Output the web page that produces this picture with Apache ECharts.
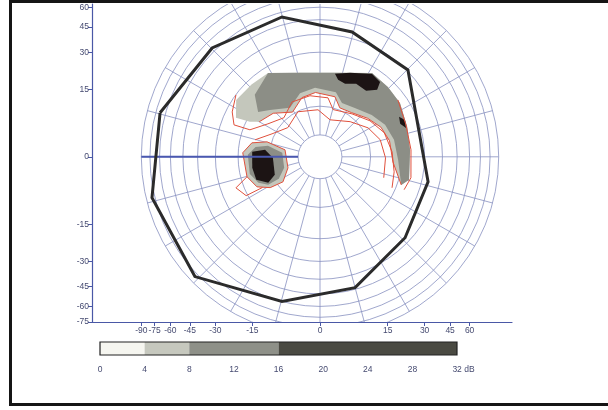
<!DOCTYPE html>
<html><head><meta charset="utf-8">
<script src="https://cdn.jsdelivr.net/npm/echarts@6/dist/echarts.min.js"></script>
<style>
html,body{margin:0;padding:0;background:#fff;overflow:hidden;width:608px;height:410px;}
#chart{position:absolute;left:0;top:0;width:608px;height:410px;}
#frame{position:absolute;left:9px;top:0px;width:596px;height:400px;border:3px solid #151515;border-right:none;pointer-events:none;}
</style></head><body>
<div id="chart"></div><div id="frame"></div>
<script>
// ---- data (visual-field degrees: [meridian angle, eccentricity]) ----
const xTicks = [-90, -75, -60, -45, -30, -15, 0, 15, 30, 45, 60];
const yTicks = [60, 45, 30, 15, 0, -15, -30, -45, -60, -75];
const circleEcc = [10, 20, 30, 40, 50, 60, 70, 80, 90];
const spokeAngles = [0, 15, 30, 45, 60, 75, 90, 105, 120, 135, 150, 165, 180, 195, 210, 225, 240, 255, 270, 285, 300, 315, 330, 345];
const holeEcc = [3.6];
const meridianLeft = [[180, 90], [180, 3.6]];
const isopter = [[164.6, 75.5], [134.7, 63.3], [105.2, 56.2], [75.6, 44.3], [44.7, 40.8], [347.0, 33.3], [316.4, 37.0], [285.0, 48.9], [255.3, 60.2], [223.8, 83.6], [193.7, 83.2]];
const scotomaLight = [[121.8, 27.1], [103.4, 21.8], [81.2, 21.3], [58.2, 27.1], [45.8, 26.5], [34.0, 26.1], [19.0, 24.2], [4.4, 23.4], [345.5, 24.1], [340.9, 21.6],
  [356, 16.8], [13, 16.2], [26, 15.0], [39, 13.0], [54.5, 11.0], [68, 10.6], [76, 13.2], [94, 14.0], [107, 13.2], [121.5, 10.5], [137, 13.8], [150, 15.8], [153.4, 18.7], [155.1, 24.4], [145.8, 28.4], [133.4, 27.6]];
const scotomaDark = [[121.8, 27.1], [103.4, 21.8], [81.2, 21.3], [58.2, 27.1], [45.8, 26.5], [34.0, 26.1], [19.0, 24.2], [4.4, 23.4], [345.5, 24.1], [340.9, 21.6],
  [357.8, 18.6], [12.9, 17.8], [26.2, 16.6], [38.9, 14.6], [54.5, 12.6], [67.8, 12.1], [76.2, 14.6], [94.1, 15.5], [107.4, 14.7], [121.5, 11.9], [136.8, 15.3], [144.0, 18.0], [136.4, 23.3]];
const scotomaBlack1 = [[79.8, 21.0], [70.3, 23.0], [57.9, 26.8], [51.3, 25.9], [49.6, 22.5], [55.1, 19.5], [63.7, 19.9], [71.1, 18.3], [76.8, 19.0]];
const scotomaBlack2 = [[26.9, 22.7], [23.5, 24.4], [18.6, 23.6], [22.4, 21.9]];
const spotOuter = [[177.0, 18.3], [168.4, 15.6], [164.2, 11.2], [168.7, 6.4], [199.0, 6.0], [214.1, 8.5], [211.8, 12.2], [205.5, 15.7], [195.3, 17.7]];
const spotMid = [[178.4, 16.5], [171.3, 14.2], [168.1, 10.7], [174.0, 6.9], [197.0, 6.8], [208.2, 9.0], [208.3, 12.3], [202.8, 14.7], [193.7, 16.5]];
const spotCore = [[175.8, 15.1], [172.7, 11.3], [181.2, 9.1], [201.8, 9.5], [206.6, 12.0], [199.8, 15.0], [189.2, 15.3]];
const spotTail = [[195.3, 17.7], [200.3, 23.1], [207.8, 20.6], [208.1, 14.2]];
const redLine1 = [[143.6, 29.9], [152.9, 27.1], [159.6, 24.0], [158.9, 17.5], [147.6, 13.1], [132.7, 10.7], [117.0, 13.1], [99.3, 13.2], [82.3, 12.5], [74.5, 9.6], [53.3, 10.8], [35.8, 13.1], [20.6, 15.3], [4.0, 16.5], [348.5, 17.7], [336.7, 18.7]];
const redLine2 = [[165.3, 14.8], [154.4, 10.7], [137.8, 8.2], [116.1, 9.9], [92.4, 9.1], [74.9, 7.0], [49.4, 8.9], [31.1, 11.5], [15.8, 13.4], [359.1, 14.3], [341.8, 14.8]];
const redLine3 = [[36.2, 26.1], [20.4, 24.0], [4.4, 23.8], [347.0, 24.7], [338.6, 23.4]];
const redLine4 = [[340.9, 21.6], [356, 16.8], [13, 16.2], [26, 15.0], [39, 13.0], [54.5, 11.0], [68, 10.6], [76, 13.2], [94, 14.0], [107, 13.2], [121.5, 10.5], [137, 13.8], [150, 15.8]];
const legendBreaks = [0, 4, 8, 16, 32];
const legendColors = ['#f6f6f0', '#c6c8be', '#8e9088', '#4a4a42'];

// ---- projection of the perimetry chart ----
const A = 83.5, K = 12;
function proj(e) { return A * Math.log(1 + e / K); }
function unproj(r) { return K * (Math.exp(r / A) - 1); }
function toXY(p) { const a = p[0] * Math.PI / 180, r = proj(p[1]); return [r * Math.cos(a), r * Math.sin(a)]; }
const sp = v => Math.sign(v) * proj(Math.abs(v));

const axisColor = '#4a58a6', labelColor = '#454a70', gridColor = '#8890c0';
const font = 'Liberation Sans, Arial, sans-serif';

function polySeries(pts, fill, stroke, lw, z) {
  return {
    type: 'custom', xAxisIndex: 0, yAxisIndex: 0, z: z, silent: true, clip: true,
    data: pts.map(toXY),
    renderItem: function (params, api) {
      if (params.dataIndexInside !== 0) return null;
      const n = params.dataInsideLength, points = [];
      for (let i = 0; i < n; i++) points.push(api.coord([api.value(0, i), api.value(1, i)]));
      return { type: 'polygon', shape: { points: points }, style: { fill: fill, stroke: stroke || null, lineWidth: lw || 0 } };
    }
  };
}
function lineSeries(pts, color, width, z, closed) {
  const d = pts.map(toXY);
  if (closed) d.push(d[0]);
  return { type: 'line', xAxisIndex: 0, yAxisIndex: 0, data: d, symbol: 'none', silent: true, z: z,
    lineStyle: { color: color, width: width, join: 'miter' }, animation: false };
}

const series = [
  { type: 'custom', xAxisIndex: 0, yAxisIndex: 0, z: 1, silent: true, clip: true,
    data: circleEcc.map(e => [e, 0]),
    renderItem: function (params, api) {
      const c = api.coord([0, 0]);
      const r = api.coord([proj(api.value(0)), 0])[0] - c[0];
      return { type: 'circle', shape: { cx: c[0], cy: c[1], r: r }, style: { fill: 'none', stroke: gridColor, lineWidth: 0.8 } };
    } },
  { type: 'custom', xAxisIndex: 0, yAxisIndex: 0, z: 1, silent: true, clip: true,
    data: spokeAngles.map(a => [a, 0]),
    renderItem: function (params, api) {
      const a = api.value(0);
      const p1 = api.coord(toXY([a, holeEcc[0]])), p2 = api.coord(toXY([a, 90]));
      return { type: 'line', shape: { x1: p1[0], y1: p1[1], x2: p2[0], y2: p2[1] }, style: { stroke: gridColor, lineWidth: 0.8 } };
    } },
  { type: 'custom', xAxisIndex: 0, yAxisIndex: 0, z: 1, silent: true,
    data: holeEcc.map(e => [e, 0]),
    renderItem: function (params, api) {
      const c = api.coord([0, 0]);
      const r = api.coord([proj(api.value(0)), 0])[0] - c[0];
      return { type: 'circle', shape: { cx: c[0], cy: c[1], r: r }, style: { fill: '#fff', stroke: gridColor, lineWidth: 0.8 } };
    } },
  polySeries(scotomaLight, '#c4c7bc', null, 0, 2),
  polySeries(scotomaDark, '#8c8e86', null, 0, 3),
  polySeries(scotomaBlack1, '#1c1414', null, 0, 4),
  polySeries(scotomaBlack2, '#1c1414', null, 0, 4),
  polySeries(spotOuter, '#c4c7bc', '#e0503c', 1, 3),
  polySeries(spotMid, '#8c8e86', null, 0, 4),
  polySeries(spotCore, '#1c1414', null, 0, 5),
  lineSeries(redLine1, '#e0503c', 1, 6),
  lineSeries(redLine2, '#e0503c', 1, 6),
  lineSeries(redLine3, '#e0503c', 1, 6),
  lineSeries(redLine4, '#e0503c', 1, 6),
  lineSeries(spotTail, '#e0503c', 1, 6),
  lineSeries(meridianLeft, '#4a58b0', 2, 7),
  lineSeries(isopter, '#2b2b2b', 3, 8, true)
];
for (let i = 0; i < legendColors.length; i++) {
  series.push({ type: 'bar', xAxisIndex: 1, yAxisIndex: 1, stack: 'lg', barWidth: '100%', silent: true,
    data: [legendBreaks[i + 1] - legendBreaks[i]], itemStyle: { color: legendColors[i] } });
}

const chart = echarts.init(document.getElementById('chart'), null, { renderer: 'canvas' });
chart.setOption({
  animation: false,
  backgroundColor: 'transparent',
  grid: [
    { left: 92, right: 96, top: 4, height: 318 },
    { left: 100, width: 357, top: 342, height: 13, show: true, z: 10, backgroundColor: 'transparent', borderColor: '#222', borderWidth: 1.2 }
  ],
  xAxis: [
    { gridIndex: 0, type: 'value', min: -228, max: 192, position: 'bottom',
      axisLine: { onZero: false, lineStyle: { color: axisColor, width: 1.2 } },
      axisTick: { length: 4, lineStyle: { color: axisColor }, customValues: xTicks.map(sp) },
      axisLabel: { customValues: xTicks.map(sp), fontSize: 8.5, color: labelColor, margin: 4, fontFamily: font,
        formatter: v => String(Math.round(Math.sign(v) * unproj(Math.abs(v))) || 0) },
      splitLine: { show: false } },
    { gridIndex: 1, type: 'value', min: 0, max: 32, interval: 4, position: 'bottom', offset: 5,
      axisLine: { onZero: false, lineStyle: { color: axisColor, width: 1.2 } },
      axisTick: { length: 3, lineStyle: { color: axisColor } },
      axisLabel: { fontSize: 8.5, color: labelColor, margin: 5, fontFamily: font,
        formatter: v => v === 32 ? '{s|}32 dB' : String(v), rich: { s: { width: 13 } } },
      splitLine: { show: false } }
  ],
  yAxis: [
    { gridIndex: 0, type: 'value', min: -proj(75), max: 153, position: 'left',
      axisLine: { onZero: false, lineStyle: { color: axisColor, width: 1.2 } },
      axisTick: { length: 4, lineStyle: { color: axisColor }, customValues: yTicks.map(sp) },
      axisLabel: { customValues: yTicks.map(sp), fontSize: 8.5, color: labelColor, margin: 3, fontFamily: font,
        formatter: v => String(Math.round(Math.sign(v) * unproj(Math.abs(v))) || 0) },
      splitLine: { show: false } },
    { gridIndex: 1, type: 'category', data: ['dB'], show: false }
  ],
  series: series
});
</script>
</body></html>
